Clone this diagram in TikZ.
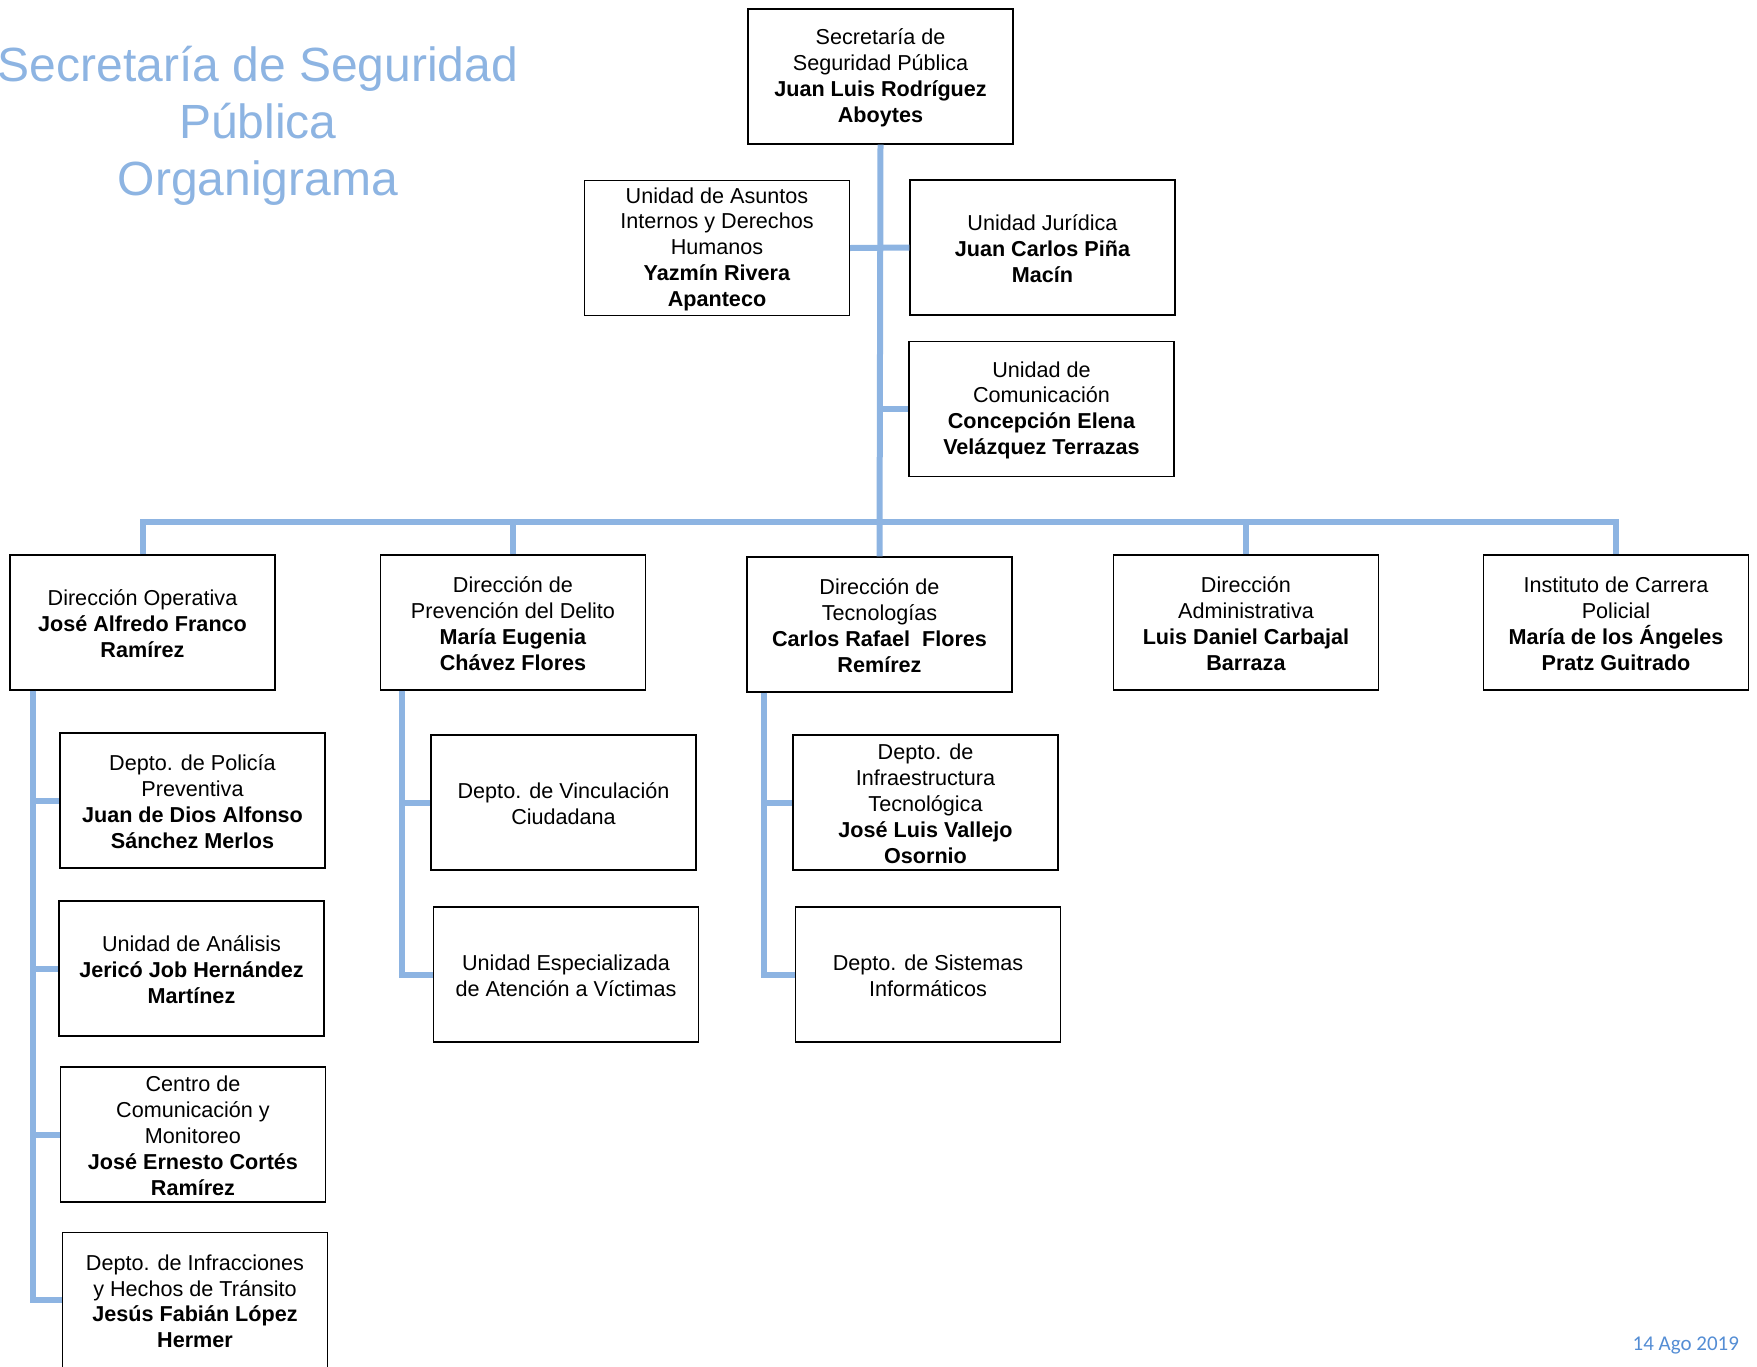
\documentclass[tikz,border=0pt]{standalone}
\usepackage{fontspec}
\setmainfont{Liberation Sans}
\newfontfamily\fecha{Carlito}
\definecolor{azul}{RGB}{141,180,226}
\definecolor{azulfecha}{RGB}{84,141,212}
\newcommand{\nom}[1]{\textbf{#1}}

\begin{document}
\begin{tikzpicture}[x=0.5pt, y=-0.5pt,
    texto/.style={align=center, yshift=-0.6pt, inner sep=0pt, font=\fontsize{10.8}{12.9}\selectfont},
    caja/.style={draw, line width=0.7pt, minimum width=132.5pt, minimum height=67.5pt,
      label={[texto]center:{#1}}},
    linea/.style={draw=azul, line width=3pt}]
      \useasboundingbox (0, 0) rectangle (1757, 1366);
      % Title
      \node[text=azul, align=center, font=\fontsize{24}{28.5}\selectfont] (T) at (258, 126) {Secretaría de Seguridad\\Pública\\Organigrama};
      \node[text=azulfecha, anchor=east, font=\fecha\fontsize{10.5}{12}\selectfont] (F) at (1746, 1345) {14 Ago 2019};

      % Top level
      \node[caja={Secretaría de\\Seguridad Pública\\\nom{Juan Luis Rodríguez}\\\nom{Aboytes}}] (S) at (880.5, 76.5) {};
      \node[caja={Unidad de Asuntos\\Internos y Derechos\\Humanos\\\nom{Yazmín Rivera}\\\nom{Apanteco}}] (AI) at (717, 248) {};
      \node[caja={Unidad Jurídica\\\nom{Juan Carlos Piña}\\\nom{Macín}}] (UJ) at (1042.5, 247.5) {};
      \node[caja={Unidad de\\Comunicación\\\nom{Concepción Elena}\\\nom{Velázquez Terrazas}}] (UC) at (1041.5, 409) {};

      % Direcciones
      \node[caja={Dirección Operativa\\\nom{José Alfredo Franco}\\\nom{Ramírez}}] (DO) at (142.5, 622.5) {};
      \node[caja={Dirección de\\Prevención del Delito\\\nom{María Eugenia}\\\nom{Chávez Flores}}] (DP) at (513, 622.5) {};
      \node[caja={Dirección de\\Tecnologías\\\nom{Carlos Rafael\ \ Flores}\\\nom{Remírez}}] (DT) at (879.5, 624.5) {};
      \node[caja={Dirección\\Administrativa\\\nom{Luis Daniel Carbajal}\\\nom{Barraza}}] (DA) at (1246, 622.5) {};
      \node[caja={Instituto de Carrera\\Policial\\\nom{María de los Ángeles}\\\nom{Pratz Guitrado}}] (IC) at (1616, 622.5) {};

      % Departamentos
      \node[caja={Depto. de Policía\\Preventiva\\\nom{Juan de Dios Alfonso}\\\nom{Sánchez Merlos}}] (PP) at (192.5, 800.5) {};
      \node[caja={Unidad de Análisis\\\nom{Jericó Job Hernández}\\\nom{Martínez}}] (UA) at (191.5, 968.5) {};
      \node[caja={Centro de\\Comunicación y\\Monitoreo\\\nom{José Ernesto Cortés}\\\nom{Ramírez}}] (CC) at (193, 1134.5) {};
      \node[caja={Depto. de Infracciones\\y Hechos de Tránsito\\\nom{Jesús Fabián López}\\\nom{Hermer}}] (IH) at (195, 1300) {};
      \node[caja={Depto. de Vinculación\\Ciudadana}] (VC) at (563.5, 802.5) {};
      \node[caja={Unidad Especializada\\de Atención a Víctimas}] (UE) at (566, 974.5) {};
      \node[caja={Depto. de\\Infraestructura\\Tecnológica\\\nom{José Luis Vallejo}\\\nom{Osornio}}] (IT) at (925.5, 802.5) {};
      \node[caja={Depto. de Sistemas\\Informáticos}] (SI) at (928, 974.5) {};

      % Trunk
      \draw[linea] (S.south) -- (DT.north);
      \draw[linea] (AI.east) -- (UJ.west);
      \draw[linea] (S.south |- UC.west) -- (UC.west);
      \coordinate (bus) at (880, 522);
      \draw[linea] (DO.north) -- (DO.north |- bus) -- (IC.north |- bus) -- (IC.north);
      \foreach \d in {DP, DA}
        \draw[linea] (\d.north) -- (\d.north |- bus);

      % Branches
      \coordinate (bo) at ([xshift=12pt]DO.south west);
      \coordinate (bp) at ([xshift=11pt]DP.south west);
      \coordinate (bt) at ([xshift=9pt]DT.south west);
      \draw[linea] (bo) |- (IH.west);
      \foreach \h in {PP, UA, CC}
        \draw[linea] (bo |- \h.west) -- (\h.west);
      \draw[linea] (bp) |- (UE.west);
      \draw[linea] (bp |- VC.west) -- (VC.west);
      \draw[linea] (bt) |- (SI.west);
      \draw[linea] (bt |- IT.west) -- (IT.west);
\end{tikzpicture}
\end{document}
